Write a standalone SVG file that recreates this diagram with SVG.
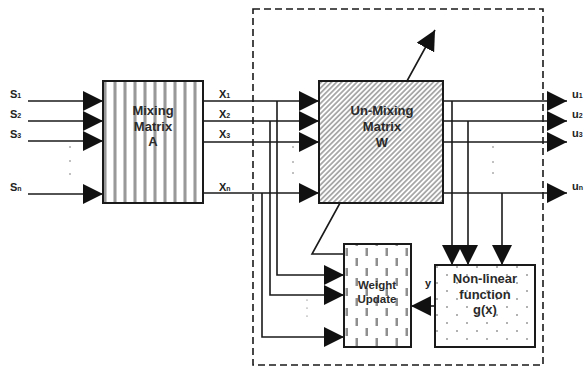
<svg xmlns="http://www.w3.org/2000/svg" width="586" height="367" viewBox="0 0 586 367">
<style>
.ln{stroke:#1a1a1a;stroke-width:1.6;fill:none}
.arr{marker-end:url(#ah)}
.box{stroke:#1a1a1a;stroke-width:2}
.t{font-family:"Liberation Sans",Arial,sans-serif;font-weight:bold;fill:#2a2a2a;text-anchor:middle}
.lb{font-family:"Liberation Sans",Arial,sans-serif;font-weight:bold;fill:#222;font-size:11px}
.sub{font-size:7px}
.dot{fill:#555}
</style>
<defs>
<marker id="ah" markerUnits="userSpaceOnUse" markerWidth="20" markerHeight="20" refX="20" refY="10" orient="auto" viewBox="0 0 20 20">
<path d="M0,0 L20,10 L0,20 z" fill="#111"/>
</marker>
<pattern id="vstripe" patternUnits="userSpaceOnUse" width="10" height="10">
<rect width="10" height="10" fill="#fff"/>
<rect x="3" width="4" height="10" fill="#c8c8c8"/>
<rect x="4" width="2" height="10" fill="#999"/>
</pattern>
<pattern id="diag" patternUnits="userSpaceOnUse" width="3.6" height="10" patternTransform="rotate(45)">
<rect width="3.6" height="10" fill="#fff"/>
<rect width="1.8" height="10" fill="#a8a8a8"/>
</pattern>
<pattern id="dash" patternUnits="userSpaceOnUse" width="20" height="20" x="344" y="244">
<rect width="20" height="20" fill="#fff"/>
<rect x="1.5" y="4" width="2.5" height="8" fill="#8f8f8f"/>
<rect x="11.5" y="14" width="2.5" height="8" fill="#8f8f8f"/>
<rect x="11.5" y="-6" width="2.5" height="8" fill="#8f8f8f"/>
</pattern>
<pattern id="dots" patternUnits="userSpaceOnUse" width="20" height="16" x="435" y="265">
<rect width="20" height="16" fill="#fff"/>
<circle cx="12" cy="10" r="1" fill="#999"/>
<circle cx="2" cy="2" r="1" fill="#999"/>
</pattern>
</defs>

<rect width="586" height="367" fill="#fff"/>

<g id="boundary">
<rect x="253" y="9" width="290" height="356" fill="none" stroke="#1a1a1a" stroke-width="1.6" stroke-dasharray="7,4"/>
</g>

<g id="connectors">
<!-- sources into A -->
<line class="ln arr" x1="28" y1="101" x2="103" y2="101"/>
<line class="ln arr" x1="28" y1="121" x2="103" y2="121"/>
<line class="ln arr" x1="28" y1="141" x2="103" y2="141"/>
<line class="ln arr" x1="28" y1="194" x2="103" y2="194"/>
<!-- x into W -->
<line class="ln arr" x1="203" y1="101" x2="319" y2="101"/>
<line class="ln arr" x1="203" y1="121" x2="319" y2="121"/>
<line class="ln arr" x1="203" y1="142" x2="319" y2="142"/>
<line class="ln arr" x1="203" y1="193" x2="319" y2="193"/>
<!-- branches to weight update -->
<polyline class="ln arr" points="277,101 277,275 344,275"/>
<polyline class="ln arr" points="270,121 270,295 344,295"/>
<polyline class="ln arr" points="262,193 262,337 344,337"/>
<!-- outputs -->
<line class="ln arr" x1="443" y1="101" x2="567" y2="101"/>
<line class="ln arr" x1="443" y1="121" x2="567" y2="121"/>
<line class="ln arr" x1="443" y1="142" x2="567" y2="142"/>
<line class="ln arr" x1="443" y1="193" x2="567" y2="193"/>
<!-- into non-linear -->
<line class="ln arr" x1="452" y1="101" x2="452" y2="265"/>
<line class="ln arr" x1="468" y1="121" x2="468" y2="265"/>
<line class="ln arr" x1="502" y1="193" x2="502" y2="265"/>
<!-- y feedback -->
<line class="ln arr" x1="435" y1="306" x2="411" y2="306"/>
<!-- adaptation arrow through W -->
<polyline class="ln arr" points="344,254 312,254 435,30"/>
</g>

<g id="mixing">
<rect class="box" x="103" y="81" width="100" height="122" fill="url(#vstripe)"/>
<text class="t" font-size="13"><tspan x="153" y="115">Mixing</tspan><tspan x="153" y="131">Matrix</tspan><tspan x="153" y="146">A</tspan></text>
</g>

<g id="unmixing">
<rect class="box" x="319" y="81" width="124" height="122" fill="url(#diag)"/>
<text class="t" font-size="13"><tspan x="382" y="115">Un-Mixing</tspan><tspan x="382" y="131">Matrix</tspan><tspan x="382" y="147">W</tspan></text>
</g>

<g id="weight-update">
<rect class="box" x="344" y="244" width="67" height="103" fill="url(#dash)"/>
<text class="t" font-size="11.5"><tspan x="377" y="289">Weight</tspan><tspan x="377" y="303">Update</tspan></text>
</g>

<g id="nonlinear">
<rect class="box" x="435" y="265" width="100" height="82" fill="url(#dots)"/>
<text class="t" font-size="13"><tspan x="485" y="283">Non-linear</tspan><tspan x="485" y="299">function</tspan><tspan x="485" y="314">g(x)</tspan></text>
</g>

<g id="labels">
<text class="lb" x="10" y="98">S<tspan class="sub">1</tspan></text>
<text class="lb" x="10" y="118">S<tspan class="sub">2</tspan></text>
<text class="lb" x="10" y="138">S<tspan class="sub">3</tspan></text>
<text class="lb" x="10" y="191">S<tspan class="sub">n</tspan></text>
<text class="lb" x="219" y="98">X<tspan class="sub">1</tspan></text>
<text class="lb" x="219" y="118">X<tspan class="sub">2</tspan></text>
<text class="lb" x="219" y="138">X<tspan class="sub">3</tspan></text>
<text class="lb" x="219" y="191">X<tspan class="sub">n</tspan></text>
<text class="lb" x="572" y="98">u<tspan class="sub">1</tspan></text>
<text class="lb" x="572" y="118">u<tspan class="sub">2</tspan></text>
<text class="lb" x="572" y="137">u<tspan class="sub">3</tspan></text>
<text class="lb" x="572" y="190">u<tspan class="sub">n</tspan></text>
<text class="lb" x="425" y="287">y</text>
</g>

<g id="ellipses">
<circle class="dot" cx="70" cy="147" r="0.7"/><circle class="dot" cx="70" cy="161" r="0.7"/><circle class="dot" cx="70" cy="174" r="0.7"/>
<circle class="dot" cx="293" cy="147" r="0.7"/><circle class="dot" cx="293" cy="162" r="0.7"/><circle class="dot" cx="293" cy="173" r="0.7"/>
<circle class="dot" cx="493" cy="147" r="0.7"/><circle class="dot" cx="493" cy="162" r="0.7"/><circle class="dot" cx="493" cy="173" r="0.7"/>
<circle class="dot" cx="307" cy="300" r="0.6"/><circle class="dot" cx="307" cy="308" r="0.6"/><circle class="dot" cx="307" cy="316" r="0.6"/>
</g>
</svg>
